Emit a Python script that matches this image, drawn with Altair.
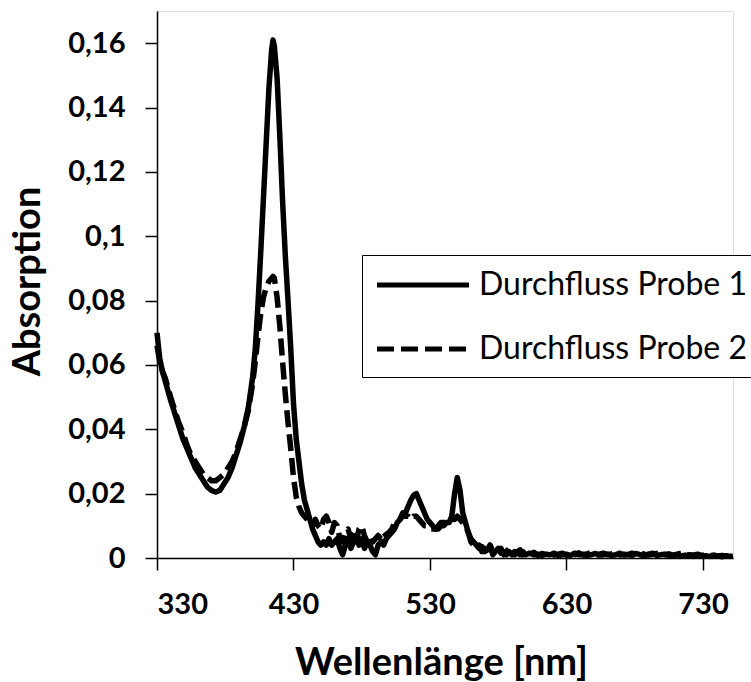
import altair as alt
import pandas as pd

# Wavelengths [nm]
wavelength = [
    330, 332, 334, 336, 338, 340, 343, 346, 349, 352,
    355, 358, 361, 364, 367, 370, 373, 376, 379, 382,
    385, 388, 391, 394, 397, 400, 402, 404, 406, 408,
    410, 412, 414, 415, 416, 418, 420, 422, 424, 426,
    428, 430, 432, 434, 436, 438,
    440, 442, 444, 446, 448, 450, 452, 454, 456, 458,
    460, 462, 464, 466, 468, 470, 472, 474, 476, 478,
    480, 482, 484, 486, 488, 490, 492, 494, 496, 498,
    500, 502, 504, 506, 508, 510, 512, 514, 516, 518,
    520, 522, 524, 526, 528, 530, 532, 534, 536, 538,
    540, 542, 544, 546, 548, 550, 552, 554, 556, 558,
    560, 562, 564, 566, 568, 570, 572, 574, 576, 578,
    580, 582, 584, 586, 588, 590, 592, 594, 596, 598,
    600,
    603, 606, 609, 612, 615, 618, 621, 624, 627, 630,
    633, 636, 639, 642, 645, 648, 651, 654, 657, 660,
    663, 666, 669, 672, 675, 678, 681, 684, 687, 690,
    693, 696, 699, 702, 705, 708, 711, 714, 717, 720,
    723, 726, 729, 732, 735, 738, 741, 744, 747, 750,
    752,
]

# Durchfluss Probe 1 (solid)
probe1 = [
    0.070, 0.062, 0.058, 0.055, 0.052, 0.049, 0.045, 0.041, 0.037, 0.034,
    0.031, 0.028, 0.026, 0.024, 0.022, 0.021, 0.0205, 0.021, 0.023, 0.025,
    0.028, 0.032, 0.036, 0.041, 0.047, 0.056, 0.065, 0.079, 0.095, 0.112,
    0.129, 0.146, 0.158, 0.161, 0.159, 0.149, 0.131, 0.111, 0.094, 0.080,
    0.065, 0.048, 0.037, 0.030, 0.023, 0.018,
    0.015, 0.012, 0.009, 0.007, 0.005, 0.004, 0.005, 0.004, 0.006, 0.004,
    0.005, 0.006, 0.003, 0.001, 0.004, 0.006, 0.003, 0.005, 0.007, 0.004,
    0.006, 0.003, 0.005, 0.004, 0.002, 0.001, 0.004, 0.005, 0.004, 0.006,
    0.007, 0.008, 0.009, 0.011, 0.012, 0.013, 0.014, 0.016, 0.018, 0.0195,
    0.020, 0.018, 0.016, 0.014, 0.012, 0.011, 0.010, 0.009, 0.009, 0.010,
    0.010, 0.011, 0.011, 0.013, 0.020, 0.025, 0.021, 0.014, 0.011, 0.008,
    0.006, 0.005, 0.004, 0.003, 0.0035, 0.002, 0.0025, 0.004, 0.001, 0.002,
    0.003, 0.0015, 0.002, 0.001, 0.002, 0.001, 0.002, 0.0015, 0.001, 0.002,
    0.001,
    0.0015, 0.001, 0.0012, 0.0008, 0.0012, 0.001, 0.0015, 0.0008, 0.001, 0.0012,
    0.0008, 0.0015, 0.001, 0.0012, 0.0008, 0.001, 0.0014, 0.0009, 0.001, 0.0012,
    0.0008, 0.001, 0.0015, 0.0009, 0.0011, 0.0008, 0.0014, 0.001, 0.0007, 0.0012,
    0.0015, 0.0008, 0.001, 0.0012, 0.0008, 0.0007, 0.001, 0.0006, 0.0009, 0.0007,
    0.0005, 0.0008, 0.0006, 0.0007, 0.0005, 0.0008, 0.0006, 0.0004, 0.0007, 0.0005,
    0.0006,
]

# Durchfluss Probe 2 (dashed)
probe2 = [
    0.066, 0.061, 0.058, 0.056, 0.053, 0.050, 0.046, 0.042, 0.039, 0.035,
    0.032, 0.030, 0.028, 0.026, 0.025, 0.024, 0.024, 0.025, 0.026, 0.028,
    0.030, 0.033, 0.037, 0.041, 0.046, 0.054, 0.061, 0.069, 0.076, 0.081,
    0.084, 0.086, 0.087, 0.0875, 0.087, 0.081, 0.072, 0.061, 0.051, 0.042,
    0.034, 0.025, 0.019, 0.016, 0.014, 0.013,
    0.012, 0.011, 0.010, 0.012, 0.010, 0.009, 0.012, 0.013, 0.011, 0.008,
    0.011, 0.010, 0.006, 0.005, 0.008, 0.009, 0.006, 0.008, 0.005, 0.009,
    0.010, 0.007, 0.005, 0.007, 0.005, 0.006, 0.007, 0.006, 0.008, 0.007,
    0.008, 0.009, 0.011, 0.012, 0.012, 0.014, 0.013, 0.013, 0.012, 0.013,
    0.013, 0.012, 0.011, 0.010, 0.010, 0.009, 0.009, 0.009, 0.010, 0.011,
    0.011, 0.011, 0.012, 0.012, 0.012, 0.013, 0.012, 0.011, 0.010, 0.008,
    0.005, 0.004, 0.003, 0.004, 0.002, 0.003, 0.001, 0.004, 0.002, 0.003,
    0.002, 0.003, 0.001, 0.002, 0.003, 0.002, 0.001, 0.002, 0.0025, 0.001,
    0.0015,
    0.001, 0.0018, 0.0008, 0.0014, 0.001, 0.0016, 0.0009, 0.0012, 0.0015, 0.0008,
    0.0012, 0.001, 0.0016, 0.0009, 0.0013, 0.0017, 0.0008, 0.0012, 0.0015, 0.001,
    0.0013, 0.0016, 0.0009, 0.0012, 0.001, 0.0015, 0.0011, 0.0016, 0.0012, 0.0009,
    0.0011, 0.0014, 0.0017, 0.001, 0.0013, 0.0009, 0.0012, 0.0015, 0.0008, 0.001,
    0.0009, 0.0012, 0.0008, 0.001, 0.0007, 0.0009, 0.0006, 0.0008, 0.0006, 0.0007,
    0.0005,
]

series_names = ["Durchfluss Probe 1", "Durchfluss Probe 2"]
x_ticks = [330, 430, 530, 630, 730]
y_ticks = [0, 0.02, 0.04, 0.06, 0.08, 0.1, 0.12, 0.14, 0.16]

assert len(wavelength) == len(probe1) == len(probe2), (len(wavelength), len(probe1), len(probe2))

rows = []
for i, w in enumerate(wavelength):
    rows.append({"wl": w, "abs": probe1[i], "series": series_names[0], "order": i})
for i, w in enumerate(wavelength):
    rows.append({"wl": w, "abs": probe2[i], "series": series_names[1], "order": i})
df = pd.DataFrame(rows)

FONT = "Lato"

chart = alt.Chart(df).mark_line(
    color="black", strokeWidth=5.5, strokeJoin="round"
).encode(
    x=alt.X("wl:Q",
            scale=alt.Scale(domain=[330, 752], nice=False, zero=False),
            axis=alt.Axis(values=x_ticks, title="Wellenlänge [nm]", grid=False,
                          labelFont=FONT, labelFontSize=29, labelFontWeight="bold",
                          labelColor="black", labelPadding=20,
                          tickSize=12, tickColor="black", tickWidth=1.5,
                          domainColor="black", domainWidth=1.5,
                          titleFont=FONT, titleFontSize=38, titleFontWeight="bold",
                          titleColor="black", titleX=284, titleY=86)),
    y=alt.Y("abs:Q",
            scale=alt.Scale(domain=[0, 0.17], nice=False),
            axis=alt.Axis(values=y_ticks, title="Absorption", grid=False,
                          labelExpr="replace(format(datum.value, '.2~f'), '.', ',')",
                          labelFont=FONT, labelFontSize=29, labelFontWeight="bold",
                          labelColor="black", labelPadding=20,
                          tickSize=12, tickColor="black", tickWidth=1.5,
                          domainColor="black", domainWidth=1.5,
                          titleFont=FONT, titleFontSize=38, titleFontWeight="bold",
                          titleColor="black", titleX=-110, titleY=270)),
    strokeDash=alt.StrokeDash("series:N",
                              scale=alt.Scale(domain=series_names, range=[[1, 0], [17, 7]]),
                              legend=alt.Legend(orient="none", legendX=205, legendY=244,
                                                title=None, symbolType="M-3,0H3",
                                                symbolSize=940, symbolStrokeWidth=5,
                                                symbolStrokeColor="black",
                                                symbolOffset=31, labelOffset=38,
                                                labelFont=FONT, labelFontSize=32,
                                                labelColor="black", labelLimit=0,
                                                rowPadding=30, padding=12,
                                                strokeColor="black", fillColor="white")),
    order="order:Q",
).properties(
    width=576, height=547,
    padding={"left": 157, "top": 11, "right": 18, "bottom": 124},
    autosize=alt.AutoSizeParams(type="none"),
).configure_view(stroke=None).configure(background="white")

chart.save("out.html", embed_options={"renderer": "svg", "actions": False})
